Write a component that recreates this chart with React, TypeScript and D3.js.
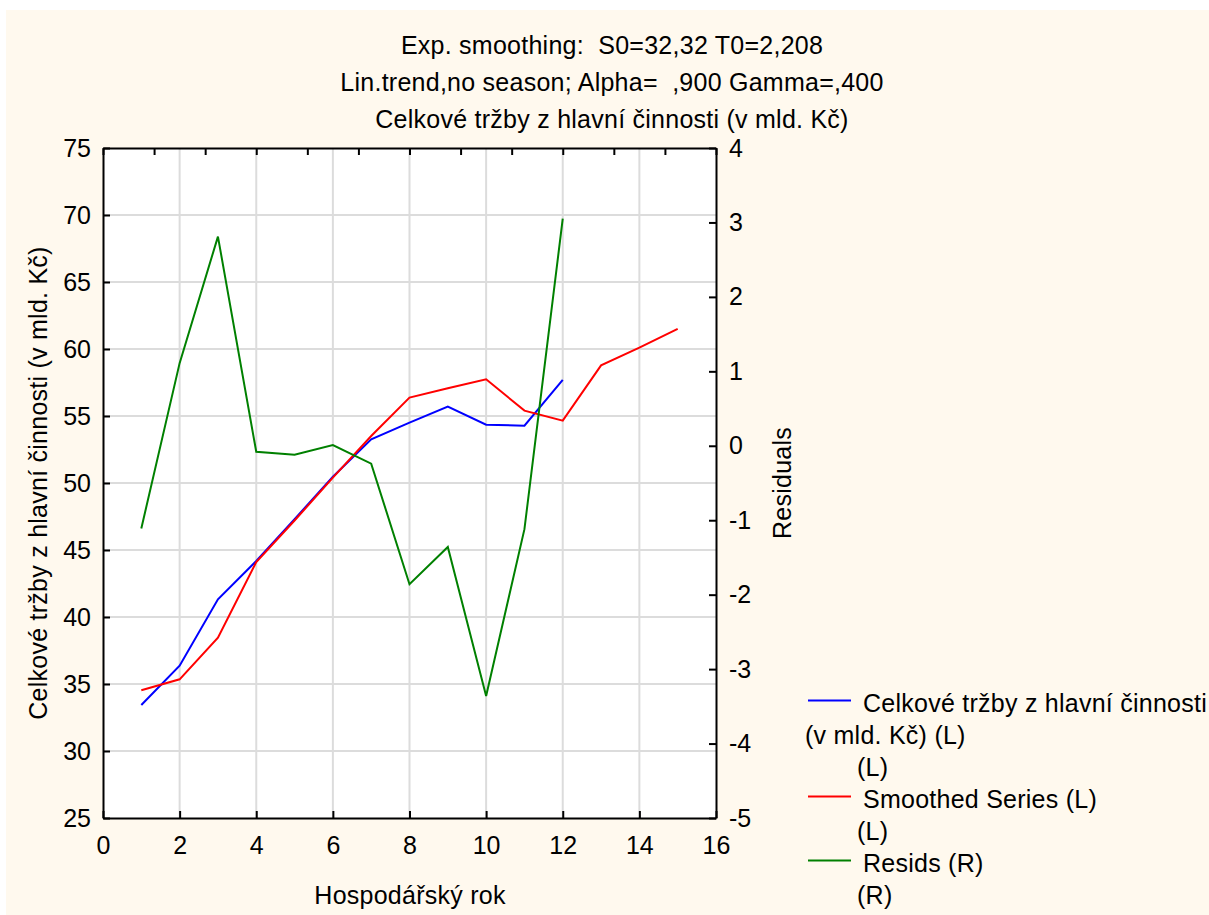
import { useEffect, useRef } from 'react';
import * as d3 from 'd3';

// hospodářský rok (x) and the three series
const years = [1, 2, 3, 4, 5, 6, 7, 8, 9, 10, 11, 12];
const forecastYears = [1, 2, 3, 4, 5, 6, 7, 8, 9, 10, 11, 12, 13, 14, 15];
const actual = [33.43, 36.37, 41.32, 44.18, 47.3, 50.47, 53.26, 54.5, 55.7, 54.35, 54.28, 57.69];
const smoothed = [34.53, 35.35, 38.46, 44.1, 47.2, 50.4, 53.51, 56.37, 57.07, 57.74, 55.4, 54.65, 58.78, 60.1, 61.5];
const resids = [-1.11, 1.11, 2.81, -0.08, -0.12, 0.01, -0.24, -1.86, -1.36, -3.36, -1.12, 3.05];

const titleLines = [
  'Exp. smoothing:  S0=32,32 T0=2,208',
  'Lin.trend,no season; Alpha=  ,900 Gamma=,400',
  'Celkové tržby z hlavní činnosti (v mld. Kč)',
];
const legendItems = [
  { color: '#0000FF', lines: ['Celkové tržby z hlavní činnosti', '(v mld. Kč) (L)', '(L)'] },
  { color: '#FF0000', lines: ['Smoothed Series (L)', '(L)'] },
  { color: '#008000', lines: ['Resids (R)', '(R)'] },
];

const W = 1209;
const H = 915;
const FONT = '"Liberation Sans", Arial, Helvetica, sans-serif';
const FS = '25px';
const LS = '0.25px';

const App = () => {
  const svgRef = useRef<SVGSVGElement>(null);

  useEffect(() => {
    if (!svgRef.current) return;
    const svg = d3.select(svgRef.current);
    svg.selectAll('*').remove();

    const left = 103, right = 716, top = 148, bottom = 818;

    const x = d3.scaleLinear().domain([0, 16]).range([left, right]);
    const xTop = d3.scaleLinear().domain([0, 12]).range([left, right]);
    const yL = d3.scaleLinear().domain([25, 75]).range([bottom, top]);
    const yR = d3.scaleLinear().domain([-5, 4]).range([bottom, top]);

    // background
    svg.append('rect').attr('width', W).attr('height', H).attr('fill', 'white');
    svg.append('rect').attr('x', 6).attr('y', 10).attr('width', W - 6).attr('height', H - 10).attr('fill', '#FFF9EE');
    svg.append('rect').attr('x', left).attr('y', top).attr('width', right - left).attr('height', bottom - top).attr('fill', 'white');

    // grid
    const grid = svg.append('g').attr('stroke', '#DCDCDC').attr('stroke-width', 2);
    grid.selectAll('.vg').data(x.ticks(8).filter(d => d > 0 && d < 16)).enter().append('line')
      .attr('x1', d => x(d)).attr('x2', d => x(d)).attr('y1', top).attr('y2', bottom);
    grid.selectAll('.hg').data(yL.ticks(10).filter(d => d > 25 && d < 75)).enter().append('line')
      .attr('y1', d => yL(d)).attr('y2', d => yL(d)).attr('x1', left).attr('x2', right);

    // lines
    const lineL = d3.line<[number, number]>().x(d => x(d[0])).y(d => yL(d[1]));
    const lineR = d3.line<[number, number]>().x(d => x(d[0])).y(d => yR(d[1]));
    const series = [
      { pts: years.map((v, i) => [v, actual[i]] as [number, number]), gen: lineL, color: '#0000FF' },
      { pts: forecastYears.map((v, i) => [v, smoothed[i]] as [number, number]), gen: lineL, color: '#FF0000' },
      { pts: years.map((v, i) => [v, resids[i]] as [number, number]), gen: lineR, color: '#008000' },
    ];
    series.forEach(s => {
      svg.append('path').attr('d', s.gen(s.pts)).attr('fill', 'none')
        .attr('stroke', s.color).attr('stroke-width', 2).attr('stroke-linejoin', 'miter');
    });

    // axes
    const styleAxis = (g: any) => {
      g.selectAll('.domain').attr('stroke', 'black').attr('stroke-width', 2);
      g.selectAll('.tick line').attr('stroke', 'black').attr('stroke-width', 2);
      g.selectAll('.tick text').attr('fill', 'black').style('font-family', FONT).style('font-size', FS);
    };
    const plain = (d: any) => String(d);

    svg.append('g').attr('transform', `translate(${left},0)`)
      .call(d3.axisLeft(yL).ticks(10).tickFormat(plain).tickSizeInner(-7).tickSizeOuter(0).tickPadding(12))
      .call(styleAxis);
    svg.append('g').attr('transform', `translate(${right},0)`)
      .call(d3.axisRight(yR).ticks(9).tickFormat(plain).tickSizeInner(-7).tickSizeOuter(0).tickPadding(13))
      .call(styleAxis);
    svg.append('g').attr('transform', `translate(0,${bottom})`)
      .call(d3.axisBottom(x).ticks(8).tickFormat(plain).tickSizeInner(-7).tickSizeOuter(0).tickPadding(18))
      .call(styleAxis);
    svg.append('g').attr('transform', `translate(0,${top})`)
      .call(d3.axisTop(xTop).ticks(12).tickSizeInner(-7).tickSizeOuter(0).tickFormat(() => ''))
      .call(styleAxis);

    // titles
    const text = (tx: number, ty: number, s: string, anchor = 'middle', rotate = 0) =>
      svg.append('text')
        .attr('transform', `translate(${tx},${ty}) rotate(${rotate})`)
        .attr('text-anchor', anchor)
        .style('font-family', FONT).style('font-size', FS).style('letter-spacing', LS)
        .attr('fill', 'black')
        .style('white-space', 'pre')
        .text(s);

    titleLines.forEach((s, i) => text(612, 54 + i * 37, s));
    text(410, 904, 'Hospodářský rok');
    text(47, 483, 'Celkové tržby z hlavní činnosti (v mld. Kč)', 'middle', -90);
    text(791, 483, 'Residuals', 'middle', -90);

    // legend
    let by = 711.5;
    legendItems.forEach(item => {
      svg.append('line').attr('x1', 808).attr('x2', 851).attr('y1', by - 11).attr('y2', by - 11)
        .attr('stroke', item.color).attr('stroke-width', 2);
      item.lines.forEach((s, i) => {
        const tx = i === 0 ? 863 : (i === 1 && item.lines.length === 3 ? 805 : 857);
        text(tx, by, s, 'start');
        by += 32;
      });
    });
  }, []);

  return (
    <div style={{ position: 'absolute', left: 0, top: 0 }}>
      <svg ref={svgRef} width={W} height={H} style={{ display: 'block' }}></svg>
    </div>
  );
};

export default App;
